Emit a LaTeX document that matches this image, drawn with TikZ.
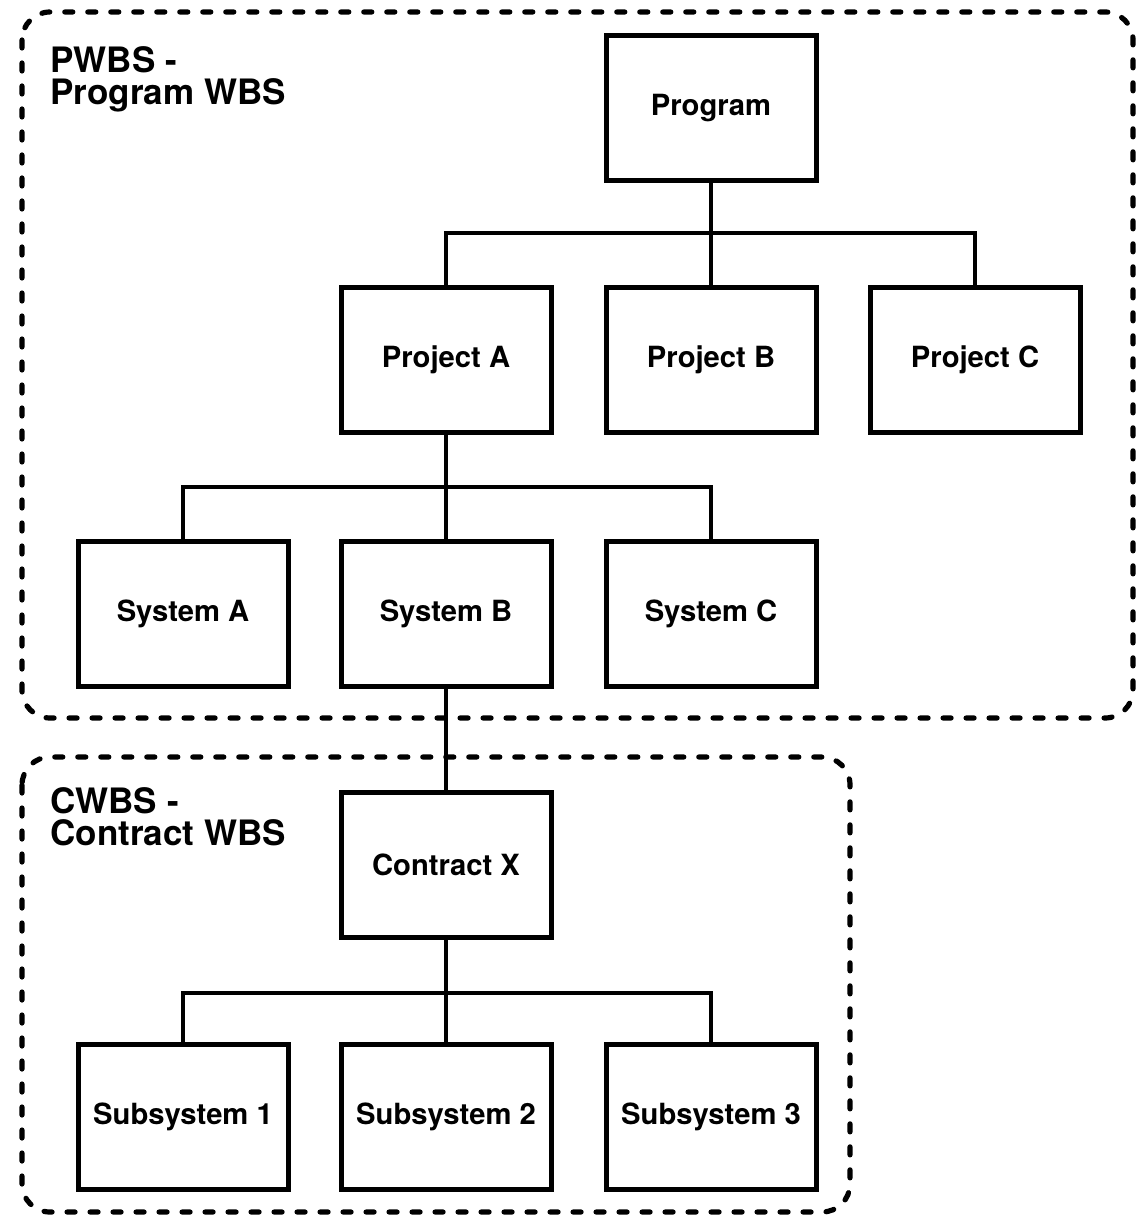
\documentclass[tikz,border=0pt]{standalone}
\usepackage{fontspec}
\setmainfont{TeX Gyre Heros}
\usepackage{tikz}
\usetikzlibrary{positioning}

\tikzset{
  wbsbox/.style={draw,line width=2.5pt,minimum width=105pt,minimum height=72.5pt,
    inner sep=0pt,font=\fontsize{14.6}{16}\selectfont\bfseries},
  wbsgroup/.style={draw,line width=2.6pt,rounded corners=14pt,line cap=round,
    dash pattern=on 4pt off 7.5pt},
  grouplabel/.style={anchor=base west,align=left,inner sep=0pt,
    font=\fontsize{17.5}{16}\selectfont\bfseries},
  link/.style={line width=2pt}
}

\begin{document}
\begin{tikzpicture}[x=0.5pt,y=-0.5pt]
  \useasboundingbox (0,0) rectangle (1142,1224);

  % program level
  \node[wbsbox] (prog) at (711,108) {Program};
  \node[wbsbox] (pa) at (446,360) {Project A};
  \node[wbsbox] (pb) at (711,360) {Project B};
  \node[wbsbox] (pc) at (975,360) {Project C};
  \node[wbsbox] (sa) at (183,614) {System A};
  \node[wbsbox] (sb) at (446,614) {System B};
  \node[wbsbox] (sc) at (711,614) {System C};

  % contract level
  \node[wbsbox] (cx) at (446,865) {Contract X};
  \node[wbsbox] (s1) at (183,1117) {Subsystem 1};
  \node[wbsbox] (s2) at (446,1117) {Subsystem 2};
  \node[wbsbox] (s3) at (711,1117) {Subsystem 3};

  % buses
  \coordinate (pbus) at (711,233);
  \coordinate (sbus) at (446,487);
  \coordinate (xbus) at (446,993);

  \draw[link] (prog) -- (pbus);
  \draw[link] (pa.north) |- (pbus) -| (pc.north);
  \draw[link] (pbus) -- (pb);
  \draw[link] (pa) -- (sbus);
  \draw[link] (sa.north) |- (sbus) -| (sc.north);
  \draw[link] (sbus) -- (sb);
  \draw[link] (sb) -- (cx);
  \draw[link] (cx) -- (xbus);
  \draw[link] (s1.north) |- (xbus) -| (s3.north);
  \draw[link] (xbus) -- (s2);

  % groups
  \draw[wbsgroup] (22,12) rectangle (1133,718);
  \draw[wbsgroup] (22,757) rectangle (850,1212);
  \node[grouplabel] (pwbs) at (50,105) {PWBS -\\Program WBS};
  \node[grouplabel] (cwbs) at (50,845) {CWBS -\\Contract WBS};
\end{tikzpicture}
\end{document}
